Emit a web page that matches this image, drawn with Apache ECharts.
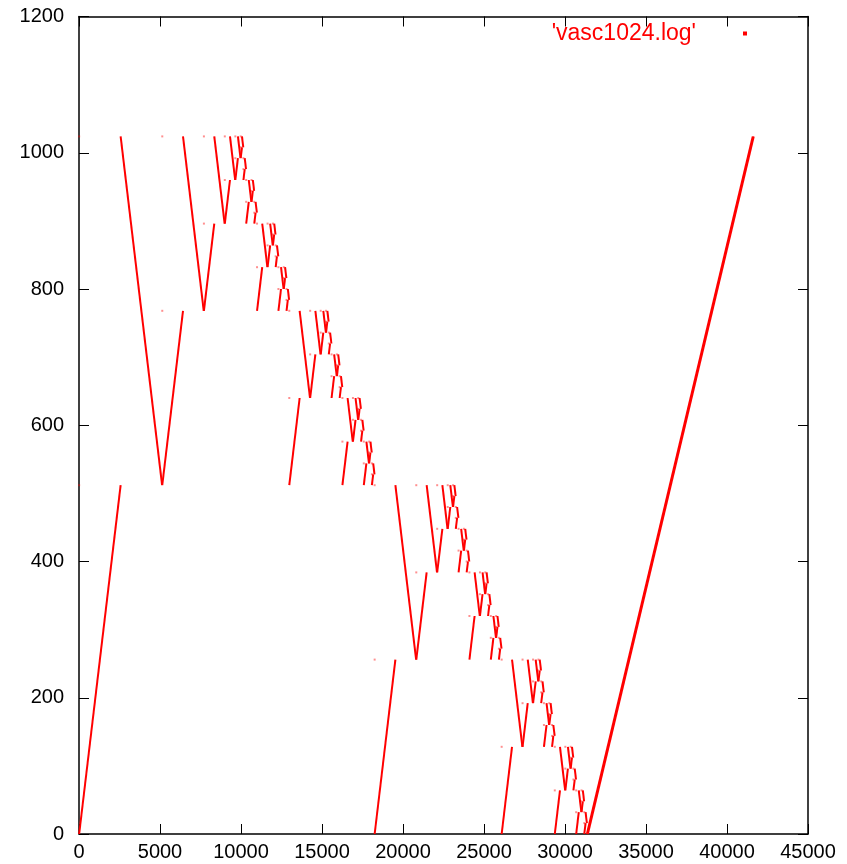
<!DOCTYPE html>
<html>
<head>
<meta charset="utf-8">
<title>vasc1024.log</title>
<script src="https://cdn.jsdelivr.net/npm/echarts@6/dist/echarts.min.js"></script>
<style>
  html, body { margin: 0; padding: 0; background: #fff; }
  #chart { width: 847px; height: 864px; }
</style>
</head>
<body>
<div id="chart"></div>
<script>
// Trace of the recursive sweep over a 1024-slot array: x = step counter, y = slot index.
// Each row is one call: [stepStart, lo, mid, hi, stepTurn, stepEnd]
//   upward sweep   lo -> mid  from stepStart to stepTurn
//   downward sweep hi -> mid  from stepTurn  to stepEnd
const seriesName = "'vasc1024.log'";

const sweep1024 = [
  [10, 0, 512, 1024, 2570, 5130]
];
const sweep512 = [
  [5140, 512, 768, 1024, 6420, 7700],
  [18250, 0, 256, 512, 19530, 20810]
];
const sweep256 = [
  [7710, 768, 896, 1024, 8350, 8990],
  [12980, 512, 640, 768, 13620, 14260],
  [20820, 256, 384, 512, 21460, 22100],
  [26090, 0, 128, 256, 26730, 27370]
];
const sweep128 = [
  [9000, 896, 960, 1024, 9320, 9640],
  [10990, 768, 832, 896, 11310, 11630],
  [14270, 640, 704, 768, 14590, 14910],
  [16260, 512, 576, 640, 16580, 16900],
  [22110, 384, 448, 512, 22430, 22750],
  [24100, 256, 320, 384, 24420, 24740],
  [27380, 128, 192, 256, 27700, 28020],
  [29370, 0, 64, 128, 29690, 30010]
];
const sweep64 = [
  [9650, 960, 992, 1024, 9810, 9970],
  [10320, 896, 928, 960, 10480, 10640],
  [11640, 832, 864, 896, 11800, 11960],
  [12310, 768, 800, 832, 12470, 12630],
  [14920, 704, 736, 768, 15080, 15240],
  [15590, 640, 672, 704, 15750, 15910],
  [16910, 576, 608, 640, 17070, 17230],
  [17580, 512, 544, 576, 17740, 17900],
  [22760, 448, 480, 512, 22920, 23080],
  [23430, 384, 416, 448, 23590, 23750],
  [24750, 320, 352, 384, 24910, 25070],
  [25420, 256, 288, 320, 25580, 25740],
  [28030, 192, 224, 256, 28190, 28350],
  [28700, 128, 160, 192, 28860, 29020],
  [30020, 64, 96, 128, 30180, 30340],
  [30690, 0, 32, 64, 30850, 31010]
];
const sweep32 = [
  [9980, 992, 1008, 1024, 10060, 10140],
  [10150, 960, 976, 992, 10230, 10310],
  [10650, 928, 944, 960, 10730, 10810],
  [10820, 896, 912, 928, 10900, 10980],
  [11970, 864, 880, 896, 12050, 12130],
  [12140, 832, 848, 864, 12220, 12300],
  [12640, 800, 816, 832, 12720, 12800],
  [12810, 768, 784, 800, 12890, 12970],
  [15250, 736, 752, 768, 15330, 15410],
  [15420, 704, 720, 736, 15500, 15580],
  [15920, 672, 688, 704, 16000, 16080],
  [16090, 640, 656, 672, 16170, 16250],
  [17240, 608, 624, 640, 17320, 17400],
  [17410, 576, 592, 608, 17490, 17570],
  [17910, 544, 560, 576, 17990, 18070],
  [18080, 512, 528, 544, 18160, 18240],
  [23090, 480, 496, 512, 23170, 23250],
  [23260, 448, 464, 480, 23340, 23420],
  [23760, 416, 432, 448, 23840, 23920],
  [23930, 384, 400, 416, 24010, 24090],
  [25080, 352, 368, 384, 25160, 25240],
  [25250, 320, 336, 352, 25330, 25410],
  [25750, 288, 304, 320, 25830, 25910],
  [25920, 256, 272, 288, 26000, 26080],
  [28360, 224, 240, 256, 28440, 28520],
  [28530, 192, 208, 224, 28610, 28690],
  [29030, 160, 176, 192, 29110, 29190],
  [29200, 128, 144, 160, 29280, 29360],
  [30350, 96, 112, 128, 30430, 30510],
  [30520, 64, 80, 96, 30600, 30680],
  [31020, 32, 48, 64, 31100, 31180],
  [31190, 0, 16, 32, 31270, 31350]
];
// Final verification pass over the whole array (two interleaved reads).
const finalPassA = [[31350, 0], [41590, 1024]];
const finalPassB = [[31410, 0], [41650, 1024]];

const xTicks = { min: 0, max: 45000, step: 5000 };
const yTicks = { min: 0, max: 1200, step: 200 };

// ---- build drawable pieces from the call table ----
const allCalls = [].concat(sweep1024, sweep512, sweep256, sweep128, sweep64, sweep32);
const segments = [];
const probes = [];
allCalls.forEach(function (c) {
  const t0 = c[0], lo = c[1], mid = c[2], hi = c[3], tTurn = c[4], tEnd = c[5];
  segments.push({ coords: [[t0, lo], [tTurn, mid]] });
  segments.push({ coords: [[tTurn, hi], [tEnd, mid]] });
  probes.push([t0, hi]);
  probes.push([t0, mid]);
});
segments.push({ coords: finalPassA });
segments.push({ coords: finalPassB });

const FONT = 'Liberation Sans, Arial, sans-serif';
const RED = '#ff0000';
const plain = function (v) { return String(v); };

const axisCommon = {
  type: 'value',
  axisLine: { show: true, onZero: false, lineStyle: { color: '#000', width: 1.5 } },
  axisTick: { show: true, inside: true, length: 10, lineStyle: { color: '#000', width: 1 } },
  splitLine: { show: false }
};

const chart = echarts.init(document.getElementById('chart'), null, { renderer: 'canvas' });
chart.setOption({
  animation: false,
  backgroundColor: '#fff',
  grid: { left: 79, right: 39, top: 16.5, bottom: 30, containLabel: false },
  legend: {
    data: [{ name: seriesName, icon: 'rect', itemStyle: { color: 'rgba(255,0,0,0.6)' } }],
    right: 95,
    top: 17,
    align: 'right',
    itemWidth: 2,
    itemHeight: 2,
    selectedMode: false,
    textStyle: { color: RED, fontSize: 23, fontFamily: FONT, padding: [0, 43, 0, 0] }
  },
  xAxis: [
    Object.assign({}, axisCommon, {
      position: 'bottom', min: xTicks.min, max: xTicks.max, interval: xTicks.step,
      axisLabel: { color: '#000', fontSize: 20, fontFamily: FONT, margin: 8,
                   showMinLabel: true, showMaxLabel: true, formatter: plain }
    }),
    Object.assign({}, axisCommon, {
      position: 'top', min: xTicks.min, max: xTicks.max, interval: xTicks.step,
      axisLabel: { show: false }
    })
  ],
  yAxis: [
    Object.assign({}, axisCommon, {
      position: 'left', min: yTicks.min, max: yTicks.max, interval: yTicks.step,
      axisLabel: { color: '#000', fontSize: 20, fontFamily: FONT, margin: 15,
                   showMinLabel: true, showMaxLabel: true, formatter: plain }
    }),
    Object.assign({}, axisCommon, {
      position: 'right', min: yTicks.min, max: yTicks.max, interval: yTicks.step,
      axisLabel: { show: false }
    })
  ],
  series: [
    {
      name: seriesName,
      type: 'lines',
      coordinateSystem: 'cartesian2d',
      xAxisIndex: 0,
      yAxisIndex: 0,
      silent: true,
      itemStyle: { color: RED },
      lineStyle: { color: RED, width: 2, opacity: 1 },
      data: segments
    },
    {
      name: seriesName,
      type: 'scatter',
      xAxisIndex: 0,
      yAxisIndex: 0,
      silent: true,
      symbol: 'rect',
      symbolSize: 2,
      itemStyle: { color: 'rgba(255,0,0,0.55)' },
      data: probes
    }
  ]
});
</script>
</body>
</html>
